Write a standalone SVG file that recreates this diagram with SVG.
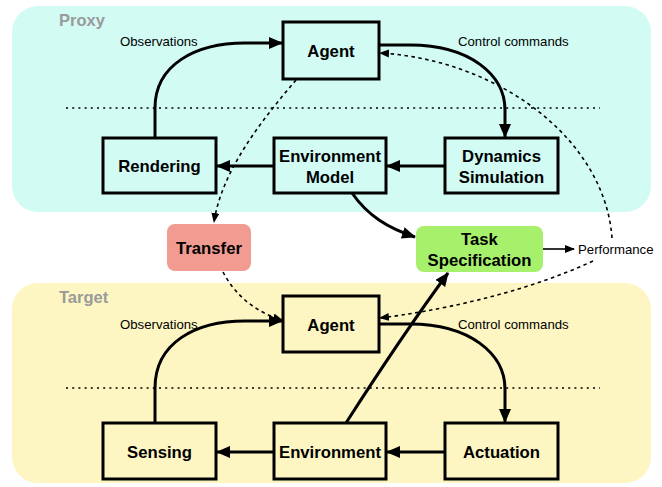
<svg xmlns="http://www.w3.org/2000/svg" width="662" height="487" viewBox="0 0 662 487">
<defs>
<marker id="ah" markerUnits="userSpaceOnUse" markerWidth="14" markerHeight="12" refX="13" refY="6" orient="auto">
<path d="M0,0 L14,6 L0,12 Z" fill="#000"/>
</marker>
<marker id="ahs" markerUnits="userSpaceOnUse" markerWidth="10" markerHeight="8" refX="9" refY="4" orient="auto">
<path d="M0,0 L10,4 L0,8 Z" fill="#000"/>
</marker>
</defs>
<style>
.bg-proxy{fill:#d2fbf3}
.bg-target{fill:#fdf6c3}
.region{font-family:"Liberation Sans",Arial,sans-serif;font-weight:bold;font-size:16.5px;fill:#9a9a9a}
.box{stroke:#000;stroke-width:3}
.px{fill:#d2fbf3}
.ty{fill:#fdf6c3}
.nt{font-family:"Liberation Sans",Arial,sans-serif;font-weight:bold;font-size:16.7px;fill:#000;text-anchor:middle}
.lb{font-family:"Liberation Sans",Arial,sans-serif;font-size:13.2px;fill:#000}
.solid{fill:none;stroke:#000;stroke-width:3;marker-end:url(#ah)}
.thin{fill:none;stroke:#000;stroke-width:1.6;marker-end:url(#ahs)}
.dash{fill:none;stroke:#000;stroke-width:1.6;stroke-dasharray:3.5,3.5;marker-end:url(#ahs)}
.dots{fill:none;stroke:#000;stroke-width:1.3;stroke-dasharray:2,4.2}
</style>

<g id="proxy-region">
<rect class="bg-proxy" x="12" y="6" width="639" height="206" rx="26"/>
<text class="region" x="59" y="26">Proxy</text>
<line class="dots" x1="66" y1="108" x2="600" y2="108"/>
</g>
<g id="target-region">
<rect class="bg-target" x="12" y="283" width="639" height="200" rx="26"/>
<text class="region" x="59" y="303">Target</text>
<line class="dots" x1="66" y1="388" x2="600" y2="388"/>
</g>

<g id="connectors">
<path class="solid" d="M155,138 L155,108 C155,65 195,43 245,43 L282,43"/>
<path class="solid" d="M379,45 L410,45 C470,45 505,75 505,110 L505,137"/>
<path class="solid" d="M445,166 L387,166"/>
<path class="solid" d="M274,166 L217,166"/>
<path class="solid" d="M352,193 C368,216 388,228 415,237"/>
<path class="thin" d="M543,249 L574,249"/>
<path class="dash" d="M296,80 C262,120 222,170 214,222"/>
<path class="dash" d="M223,272 C235,295 255,312 282,320"/>
<path class="dash" d="M593,261 C520,295 430,312 380,318"/>
<path class="dash" d="M612,238 C605,140 500,60 380,53"/>
<path class="solid" d="M155,423 L155,388 C155,343 195,321 245,321 L282,321"/>
<path class="solid" d="M379,324 L410,324 C470,324 505,354 505,389 L505,422"/>
<path class="solid" d="M445,452 L387,452"/>
<path class="solid" d="M274,452 L217,452"/>
<path class="solid" d="M346,423 C378,373 415,318 448,273"/>
</g>

<g id="agent-proxy">
<rect class="box px" x="283" y="22" width="96" height="57"/>
<text class="nt" x="331" y="57">Agent</text>
</g>
<g id="rendering">
<rect class="box px" x="103" y="138" width="113" height="55"/>
<text class="nt" x="159.5" y="172">Rendering</text>
</g>
<g id="environment-model">
<rect class="box px" x="274" y="138" width="112" height="55"/>
<text class="nt" x="330" y="162">Environment</text>
<text class="nt" x="330" y="183">Model</text>
</g>
<g id="dynamics-simulation">
<rect class="box px" x="445" y="138" width="113" height="55"/>
<text class="nt" x="501.5" y="162">Dynamics</text>
<text class="nt" x="501.5" y="183">Simulation</text>
</g>
<g id="transfer">
<rect x="167" y="224" width="84" height="47" rx="8" fill="#f19b91"/>
<text class="nt" x="209" y="254">Transfer</text>
</g>
<g id="task-specification">
<rect x="416" y="226" width="127" height="46" rx="8" fill="#a6f06b"/>
<text class="nt" x="479.5" y="245">Task</text>
<text class="nt" x="479.5" y="266">Specification</text>
</g>
<g id="agent-target">
<rect class="box ty" x="283" y="296" width="96" height="56"/>
<text class="nt" x="331" y="331">Agent</text>
</g>
<g id="sensing">
<rect class="box ty" x="103" y="423" width="113" height="56"/>
<text class="nt" x="159.5" y="458">Sensing</text>
</g>
<g id="environment">
<rect class="box ty" x="274" y="423" width="112" height="56"/>
<text class="nt" x="330" y="458">Environment</text>
</g>
<g id="actuation">
<rect class="box ty" x="445" y="423" width="113" height="56"/>
<text class="nt" x="501.5" y="458">Actuation</text>
</g>

<g id="labels">
<text class="lb" x="120" y="46">Observations</text>
<text class="lb" x="458" y="46">Control commands</text>
<text class="lb" x="120" y="329">Observations</text>
<text class="lb" x="458" y="329">Control commands</text>
<text class="lb" x="578" y="254">Performance</text>
</g>
</svg>
